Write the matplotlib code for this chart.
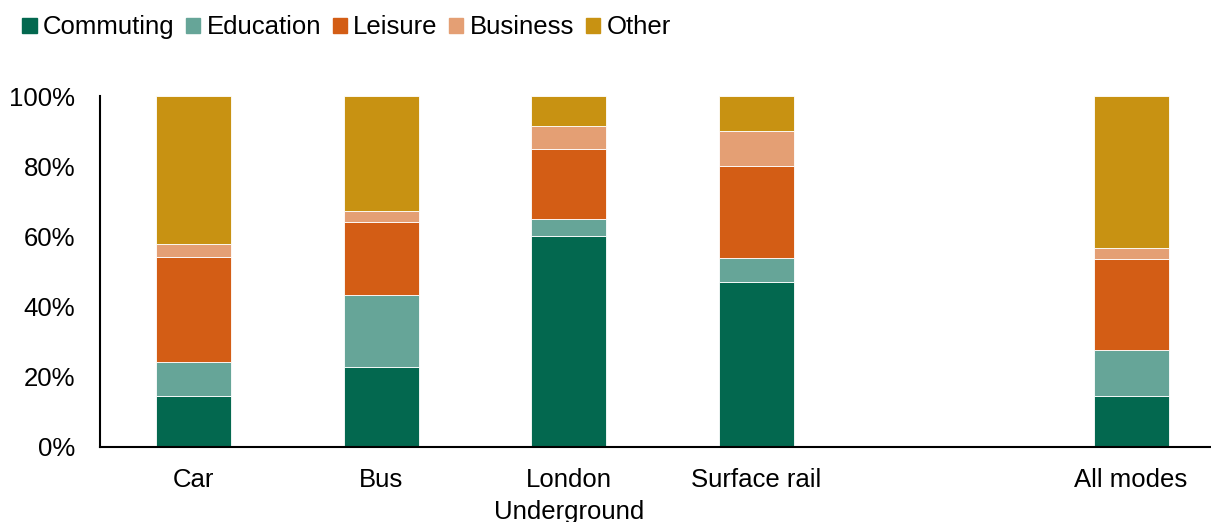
import matplotlib.pyplot as plt
import numpy as np
from matplotlib.patches import Patch
from matplotlib.ticker import PercentFormatter

plt.rcParams['font.family'] = ['Liberation Sans', 'DejaVu Sans']

modes = ['Car', 'Bus', 'London\nUnderground', 'Surface rail', '', 'All modes']
purposes = ['Commuting', 'Education', 'Leisure', 'Business', 'Other']
colors = ['#03684F', '#66A598', '#D35D15', '#E49F74', '#C89212']

# shares by purpose, one value per mode (gap slot left empty)
commuting = [14.4, 22.7, 60.2, 47.0, 0, 14.4]
education = [9.9, 20.6, 4.8, 6.8, 0, 13.3]
leisure = [29.9, 20.9, 20.0, 26.2, 0, 25.8]
business = [3.5, 2.9, 6.5, 10.0, 0, 3.1]
other = [42.3, 32.9, 8.5, 10.0, 0, 43.4]

series = [commuting, education, leisure, business, other]

fig = plt.figure(figsize=(12.11, 5.22), dpi=100)
ax = fig.add_axes([100/1211, 1-447/522, 1-100/1211, (447-96)/522])

x = np.arange(len(modes))
bottom = np.zeros(len(modes))
for vals, c in zip(series, colors):
    vals = np.array(vals)
    ax.bar(x, vals, 0.4, bottom=bottom, color=c, edgecolor='white', linewidth=0.6)
    bottom += vals

ax.set_xlim(-0.5, (1211-193.5)/187.5)
ax.set_ylim(0, 100)
ax.set_yticks(np.arange(0, 101, 20))
ax.yaxis.set_major_formatter(PercentFormatter(decimals=0))
ax.set_xticks(x)
ax.set_xticklabels(modes, linespacing=1.45)
ax.tick_params(axis='both', length=0, labelsize=18.5, colors='black')
ax.tick_params(axis='y', pad=18)
ax.tick_params(axis='x', pad=15)
ax.spines['top'].set_visible(False)
ax.spines['right'].set_visible(False)
ax.spines['left'].set_linewidth(1.5)
ax.spines['bottom'].set_linewidth(1.5)

handles = [Patch(color=c, label=p) for p, c in zip(purposes, colors)]
fig.legend(handles=handles, loc='upper left', bbox_to_anchor=(0.01, 0.99), ncol=5,
           frameon=False, fontsize=18.5, handlelength=0.55, handleheight=0.55,
           handletextpad=0.25, columnspacing=0.45, borderaxespad=0)

fig.savefig('out.png', dpi=100)
